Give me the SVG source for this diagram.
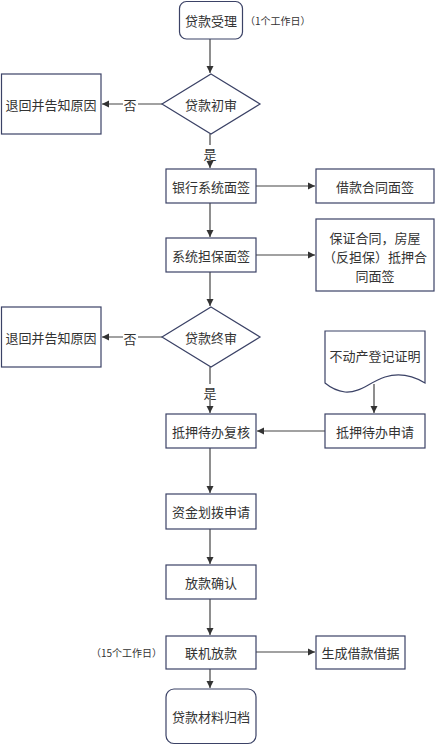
<svg xmlns="http://www.w3.org/2000/svg" width="435" height="745" viewBox="0 0 435 745">
<defs>
<marker id="ah" markerWidth="8" markerHeight="8" refX="7" refY="4" orient="auto" markerUnits="userSpaceOnUse">
<path d="M0,0.5 L7,4 L0,7.5 Z" fill="#333"/>
</marker>
<style>
.n{fill:#fff;stroke:#3b4266;stroke-width:1.2}
.t{font-family:"Noto Sans CJK SC","Liberation Sans",sans-serif;font-size:13px;fill:#333;text-anchor:middle;dominant-baseline:central}
.s{font-family:"Noto Sans CJK SC","Liberation Sans",sans-serif;font-size:10px;fill:#333;dominant-baseline:central}
.c{stroke:#444;stroke-width:1.2;fill:none;marker-end:url(#ah)}
</style>
</defs>
<rect width="435" height="745" fill="#fff"/>
<g id="connectors">
<path class="c" d="M210,39 V73"/>
<path class="c" d="M162,104 H102"/>
<path class="c" d="M210,134 V168"/>
<path class="c" d="M256,186 H315"/>
<path class="c" d="M210,203 V237"/>
<path class="c" d="M256,255 H315"/>
<path class="c" d="M210,272 V306"/>
<path class="c" d="M162,337 H102"/>
<path class="c" d="M210,367 V413"/>
<path class="c" d="M374,384 V413"/>
<path class="c" d="M325,431 H257"/>
<path class="c" d="M210,448 V493"/>
<path class="c" d="M210,529 V564"/>
<path class="c" d="M210,599 V635"/>
<path class="c" d="M256,652 H315"/>
<path class="c" d="M210,669 V688"/>
<rect x="123" y="96" width="15" height="16" fill="#fff"/>
<text class="t" x="130" y="104">否</text>
<rect x="202" y="145" width="16" height="16" fill="#fff"/>
<text class="t" x="210" y="153">是</text>
<rect x="123" y="330" width="15" height="16" fill="#fff"/>
<text class="t" x="130" y="338">否</text>
<rect x="202" y="384" width="16" height="16" fill="#fff"/>
<text class="t" x="210" y="392">是</text>
</g>
<g id="n1"><rect class="n" x="179.5" y="1.5" width="63" height="37.5" rx="7"/><text class="t" x="211" y="20.5">贷款受理</text></g>
<g id="note1"><text class="s" x="245" y="20">（1个工作日）</text></g>
<g id="d1"><path class="n" d="M211,74 L260,104 L211,134 L162,104 Z"/><text class="t" x="211" y="104">贷款初审</text></g>
<g id="r1"><rect class="n" x="1.5" y="74" width="99.5" height="60"/><text class="t" x="51" y="104">退回并告知原因</text></g>
<g id="n2"><rect class="n" x="166" y="169" width="90" height="34"/><text class="t" x="211" y="186">银行系统面签</text></g>
<g id="n3"><rect class="n" x="316" y="169" width="118" height="34"/><text class="t" x="375" y="186">借款合同面签</text></g>
<g id="n4"><rect class="n" x="166" y="238" width="90" height="34"/><text class="t" x="211" y="255">系统担保面签</text></g>
<g id="n5"><rect class="n" x="316" y="219" width="118" height="72"/><text class="t" x="375" y="237.5">保证合同，房屋</text><text class="t" x="375" y="256.5">（反担保）抵押合</text><text class="t" x="375" y="275">同面签</text></g>
<g id="d2"><path class="n" d="M211,307 L260,337 L211,367 L162,337 Z"/><text class="t" x="211" y="337">贷款终审</text></g>
<g id="r2"><rect class="n" x="1.5" y="307" width="99.5" height="60"/><text class="t" x="51" y="337">退回并告知原因</text></g>
<g id="doc"><path class="n" d="M325,331 H425 V383 C410,374 398,373 385,377 C368,383 360,393 345,392 C337,391 331,388 325,383 Z"/><text class="t" x="375" y="355">不动产登记证明</text></g>
<g id="n6"><rect class="n" x="166" y="414" width="90" height="34"/><text class="t" x="211" y="431">抵押待办复核</text></g>
<g id="n7"><rect class="n" x="325" y="414" width="100" height="34"/><text class="t" x="375" y="431">抵押待办申请</text></g>
<g id="n8"><rect class="n" x="166" y="494" width="90" height="35"/><text class="t" x="211" y="511.5">资金划拨申请</text></g>
<g id="n9"><rect class="n" x="166" y="565" width="90" height="34"/><text class="t" x="211" y="582">放款确认</text></g>
<g id="n10"><rect class="n" x="166" y="636" width="90" height="33"/><text class="t" x="211" y="652.5">联机放款</text></g>
<g id="note2"><text class="s" x="91" y="652">（15个工作日）</text></g>
<g id="n11"><rect class="n" x="316" y="636" width="89" height="33"/><text class="t" x="360.5" y="652.5">生成借款借据</text></g>
<g id="n12"><rect class="n" x="166" y="689" width="90" height="54.5" rx="8"/><text class="t" x="211" y="716">贷款材料归档</text></g>
</svg>
